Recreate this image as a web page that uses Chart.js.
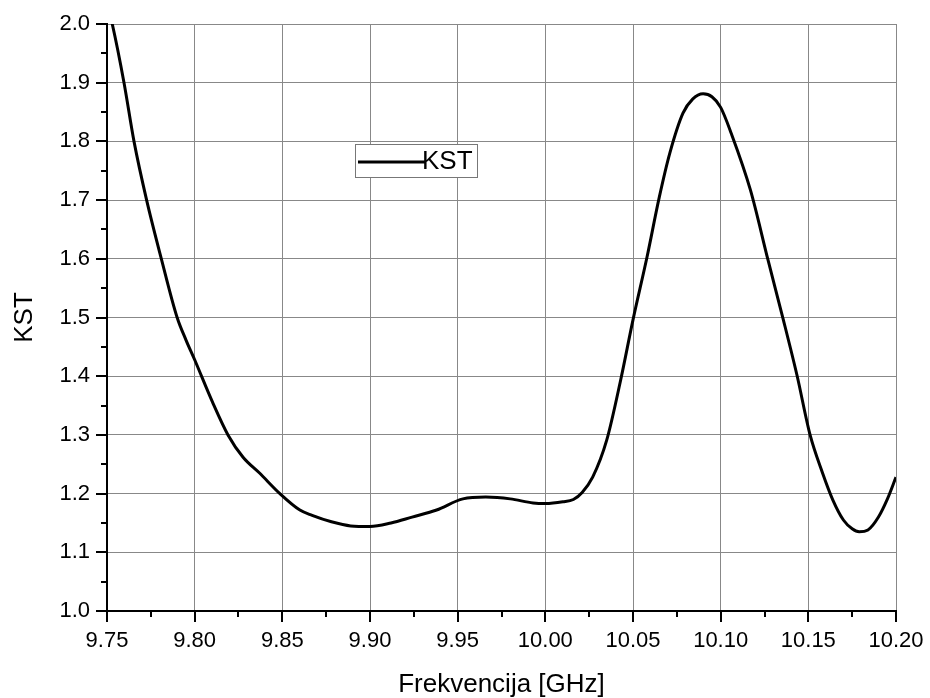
<!DOCTYPE html>
<html>
<head>
<meta charset="utf-8">
<script src="https://cdn.jsdelivr.net/npm/chart.js@4.4.0/dist/chart.umd.min.js"></script>
<style>
  html, body { margin: 0; padding: 0; background: #fff; }
  canvas { display: block; }
</style>
</head>
<body>
<canvas id="kstChart" width="930" height="698"></canvas>
<script>
// values
const freq = [9.75, 9.753, 9.7597, 9.7654, 9.7726, 9.781, 9.790, 9.795, 9.80, 9.81, 9.819,
  9.8276, 9.837, 9.8486, 9.86, 9.867, 9.878, 9.889, 9.90, 9.912, 9.924,
  9.938, 9.953, 9.966, 9.98, 9.993, 10.00, 10.01, 10.016, 10.021, 10.027,
  10.035, 10.043, 10.05, 10.058, 10.065, 10.071, 10.0785, 10.084, 10.09, 10.095,
  10.10, 10.106, 10.117, 10.127, 10.1355, 10.1435, 10.151, 10.158, 10.164, 10.17,
  10.175, 10.179, 10.184, 10.19, 10.195, 10.20];
const kst = [2.035, 2.0, 1.9, 1.8, 1.7, 1.6, 1.5, 1.462, 1.428, 1.357, 1.3,
  1.262, 1.235, 1.2, 1.172, 1.163, 1.152, 1.145, 1.144, 1.150, 1.160,
  1.172, 1.191, 1.194, 1.191, 1.184, 1.183, 1.186, 1.190, 1.202, 1.228,
  1.291, 1.394, 1.496, 1.603, 1.705, 1.78, 1.848, 1.872, 1.881, 1.876,
  1.858, 1.814, 1.717, 1.598, 1.499, 1.402, 1.30, 1.236, 1.189, 1.155,
  1.14, 1.135, 1.138, 1.16, 1.19, 1.228];

const xTicks = [9.75, 9.80, 9.85, 9.90, 9.95, 10.00, 10.05, 10.10, 10.15, 10.20];
const yTicks = [1.0, 1.1, 1.2, 1.3, 1.4, 1.5, 1.6, 1.7, 1.8, 1.9, 2.0];

const seriesName = 'KST';
const xTitle = 'Frekvencija [GHz]';
const yTitle = 'KST';

const FONT = '"Liberation Sans", Arial, Helvetica, sans-serif';
Chart.defaults.font.family = FONT;
Chart.defaults.color = '#000';

// outward major + minor tick marks on the left and bottom axes
const tickMarks = {
  id: 'tickMarks',
  afterDraw(chart) {
    const {ctx, chartArea: a, scales: {x, y}} = chart;
    ctx.save();
    ctx.strokeStyle = '#000';
    ctx.lineWidth = 2;
    ctx.beginPath();
    yTicks.forEach((v, i) => {
      const py = Math.round(y.getPixelForValue(v));
      ctx.moveTo(a.left - 11, py); ctx.lineTo(a.left, py);
      if (i < yTicks.length - 1) {
        const my = Math.round(y.getPixelForValue((v + yTicks[i + 1]) / 2));
        ctx.moveTo(a.left - 6, my); ctx.lineTo(a.left, my);
      }
    });
    xTicks.forEach((v, i) => {
      const px = Math.round(x.getPixelForValue(v));
      ctx.moveTo(px, a.bottom); ctx.lineTo(px, a.bottom + 11);
      if (i < xTicks.length - 1) {
        const mx = Math.round(x.getPixelForValue((v + xTicks[i + 1]) / 2));
        ctx.moveTo(mx, a.bottom); ctx.lineTo(mx, a.bottom + 6);
      }
    });
    ctx.stroke();
    ctx.restore();
  }
};

// boxed legend sitting inside the plot
const legendBox = {
  id: 'legendBox',
  afterDatasetsDraw(chart) {
    const {ctx, chartArea: a} = chart;
    const bx = a.left + 248, by = a.top + 120, bw = 122, bh = 33;
    ctx.save();
    ctx.fillStyle = '#fff';
    ctx.fillRect(bx, by, bw, bh);
    ctx.strokeStyle = '#777';
    ctx.lineWidth = 1;
    ctx.strokeRect(bx + 0.5, by + 0.5, bw, bh);
    ctx.strokeStyle = '#000';
    ctx.lineWidth = 3;
    ctx.beginPath();
    ctx.moveTo(bx + 3, by + 18);
    ctx.lineTo(bx + 70, by + 18);
    ctx.stroke();
    ctx.fillStyle = '#000';
    ctx.font = '26px ' + FONT;
    ctx.textBaseline = 'middle';
    ctx.fillText(seriesName, bx + 67, by + 18);
    ctx.restore();
  }
};

new Chart(document.getElementById('kstChart'), {
  type: 'line',
  data: {
    datasets: [{
      label: seriesName,
      data: freq.map((f, i) => ({x: f, y: kst[i]})),
      borderColor: '#000',
      borderWidth: 3,
      pointRadius: 0,
      fill: false,
      cubicInterpolationMode: 'monotone'
    }]
  },
  options: {
    responsive: false,
    animation: false,
    layout: {padding: {top: 24, right: 34, left: 0, bottom: 0}},
    plugins: {legend: {display: false}, tooltip: {enabled: false}},
    scales: {
      x: {
        type: 'linear',
        min: 9.75,
        max: 10.2,
        afterBuildTicks: s => { s.ticks = xTicks.map(v => ({value: v})); },
        afterFit: s => { s.height = 87; s.paddingLeft = 0; s.paddingRight = 0; },
        grid: {color: '#888', lineWidth: 1, drawTicks: false},
        border: {color: '#000', width: 2},
        ticks: {
          padding: 17,
          font: {size: 22},
          maxRotation: 0,
          callback: v => v.toFixed(2)
        },
        title: {display: true, text: xTitle, font: {size: 26, lineHeight: 1}, padding: 0}
      },
      y: {
        min: 1.0,
        max: 2.0,
        afterBuildTicks: s => { s.ticks = yTicks.map(v => ({value: v})); },
        afterFit: s => { s.width = 107; s.paddingTop = 0; s.paddingBottom = 0; },
        grid: {color: '#888', lineWidth: 1, drawTicks: false},
        border: {color: '#000', width: 2},
        ticks: {
          padding: 17,
          font: {size: 22},
          callback: v => v.toFixed(1)
        },
        title: {display: true, text: yTitle, font: {size: 26, lineHeight: 1.2}, padding: {top: 9, bottom: 0}}
      }
    }
  },
  plugins: [tickMarks, legendBox]
});
</script>
</body>
</html>
